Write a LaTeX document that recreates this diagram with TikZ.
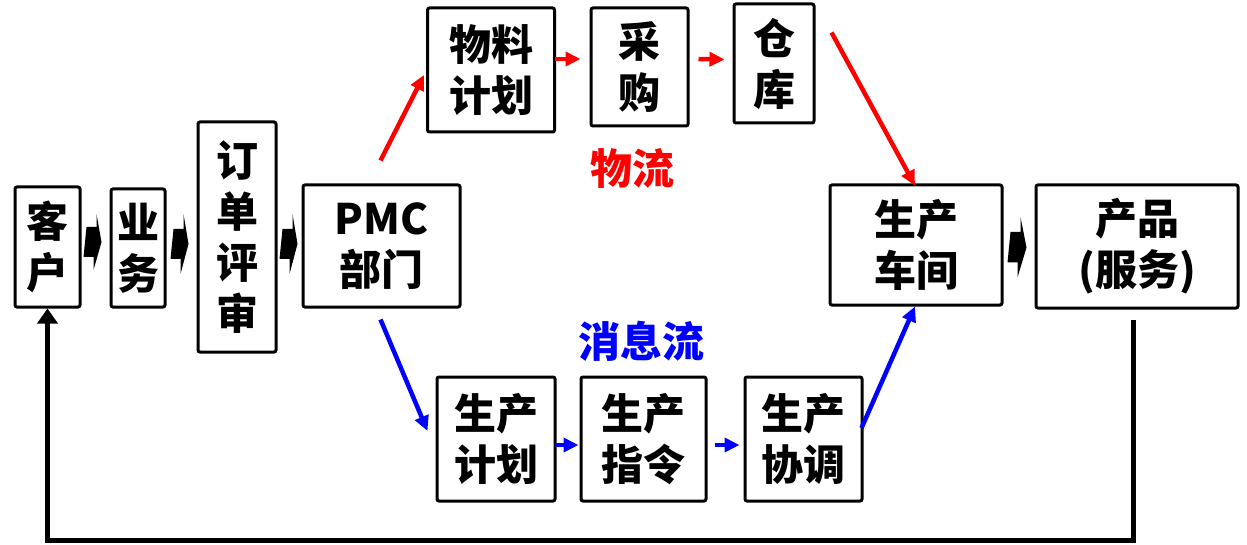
\documentclass[tikz,border=0pt]{standalone}
\usepackage{fontspec}
\setmainfont{Noto Sans CJK SC}
\usetikzlibrary{arrows.meta,calc}
\begin{document}
\begin{tikzpicture}[x=1pt,y=-1pt,
  box/.style={draw,line width=3pt,rounded corners=2pt,inner sep=0pt,align=center,
    font=\fontsize{42}{51}\selectfont\bfseries},
  redarr/.style={draw=red,line width=4.5pt,-{Triangle[length=15pt,width=14pt]}},
  bluearr/.style={draw=blue,line width=4.5pt,-{Triangle[length=15pt,width=14pt]}},
  fatarr/.style={fill=black},
  fb/.style={line width=5pt,line join=miter,-{Triangle[length=15pt,width=20pt]}},
  lbl/.style={font=\fontsize{42}{51}\selectfont\bfseries,inner sep=0pt}]
\useasboundingbox (0,0) rectangle (1247,545);
\node[box,minimum width=65pt,minimum height=120pt] (kh) at (47.5,247) {客\\户};
\node[box,minimum width=54pt,minimum height=118pt] (yw) at (138,248) {业\\务};
\node[box,minimum width=78pt,minimum height=230pt] (dd) at (237,237) {订\\单\\评\\审};
\node[box,minimum width=157pt,minimum height=122pt] (pmc) at (381.5,246) {PMC\\部门};
\node[box,minimum width=127pt,minimum height=124pt] (wl) at (491,70) {物料\\计划};
\node[box,minimum width=97pt,minimum height=118pt] (cg) at (639.5,67) {采\\购};
\node[box,minimum width=80pt,minimum height=119pt] (ck) at (774,63.5) {仓\\库};
\node[box,minimum width=118pt,minimum height=124pt] (jh) at (496,439) {生产\\计划};
\node[box,minimum width=125pt,minimum height=124pt] (zl) at (643.5,439) {生产\\指令};
\node[box,minimum width=117pt,minimum height=124pt] (xt) at (803.5,439) {生产\\协调};
\node[box,minimum width=172pt,minimum height=120pt] (cj) at (916,245) {生产\\车间};
\node[box,minimum width=202pt,minimum height=123pt] (cp) at (1137,246.5) {产品\\(服务)};
\node[lbl,text=red] (wlt) at (632,168) {物流};
\node[lbl,text=blue] (xxt) at (641,341) {消息流};
% fat black arrows (from node to node)
\fill[fatarr] ($(kh.east)+(5,-5)$) ++(0,-15) -- ++(10,0) -- ++(0,-13) -- ($(yw.west)+(-8,-6)$) -- ++(-8,28) -- ++(0,-13) -- ++(-10,0) -- cycle;
\fill[fatarr] ($(yw.east)+(7,-4)$) ++(0,-15) -- ++(10,0) -- ++(0,-15) -- ($(dd.west)+(-8,7)$) -- ++(-8,30) -- ++(0,-15) -- ++(-10,0) -- cycle;
\fill[fatarr] ($(dd.east)+(5,7)$) ++(0,-15) -- ++(10,0) -- ++(0,-15) -- ($(pmc.west)+(-4,-2)$) -- ++(-8,30) -- ++(0,-15) -- ++(-10,0) -- cycle;
\fill[fatarr] ($(cj.east)+(7,2)$) ++(0,-15) -- ++(10,0) -- ++(0,-15) -- ($(cp.west)+(-8,1)$) -- ++(-9,30) -- ++(0,-15) -- ++(-10,0) -- cycle;
% red flow
\draw[redarr] ($(pmc.north)+(-1,-23)$) -- ($(wl.west)+(-2,5)$);
\draw[redarr] ($(wl.east)+(-1,-11)$) -- ($(cg.west)+(-9,-8)$);
\draw[redarr] ($(cg.east)+(9,-8)$) -- ($(ck.west)+(-8,-4)$);
\draw[redarr] ($(ck.east)+(16,-31)$) -- ($(cj.north)+(-1,2)$);
% blue flow
\draw[bluearr] ($(pmc.south)+(-1,11)$) -- ($(jh.west)+(-8,-8)$);
\draw[bluearr] ($(jh.east)+(-2,6)$) -- ($(zl.west)+(-1,6)$);
\draw[bluearr] ($(zl.east)+(7,6)$) -- ($(xt.west)+(-4,6)$);
\draw[bluearr] ($(xt.east)+(-2,-11)$) -- ($(cj.south)+(-1,0)$);
% feedback
\draw[fb] ($(cp.south)+(-4,10)$) |- ($(kh.south)+(0,232)$) -- (kh.south);
\end{tikzpicture}
\end{document}
